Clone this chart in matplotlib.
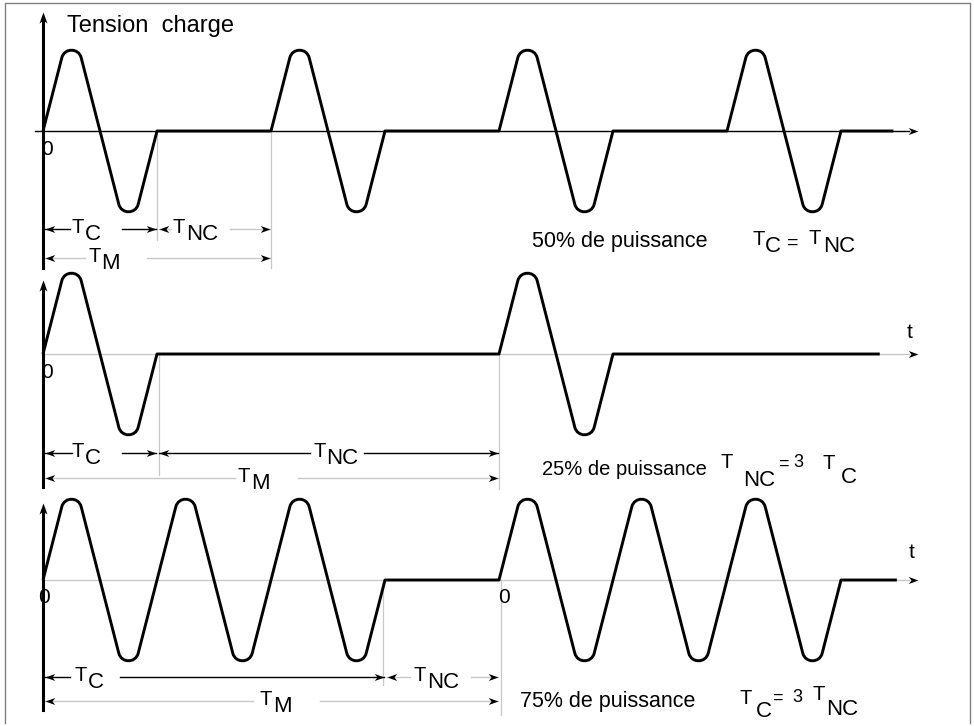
import numpy as np
import matplotlib.pyplot as plt
from matplotlib.path import Path
from matplotlib.patches import PathPatch
from matplotlib.markers import MarkerStyle
from matplotlib.transforms import Affine2D

plt.rcParams['font.family'] = ['Liberation Sans', 'DejaVu Sans']

# === Data: time in mains periods, voltage relative to the triangle peak ===
amp = 1.0
p1_on = [0, 2, 4, 6]            # 50 % : T_C = T_NC
p2_on = [0, 4]                  # 25 % : T_NC = 3 T_C
p3_on = [0, 1, 2, 4, 5, 6]      # 75 % : T_C = 3 T_NC
p1_end, p2_end, p3_end = 7.46, 7.34, 7.49

# dimension lines: (from, to, subscript)
p1_dims = [(0, 1, 'C'), (1, 2, 'NC'), (0, 2, 'M')]
p2_dims = [(0, 1, 'C'), (1, 4, 'NC'), (0, 4, 'M')]
p3_dims = [(0, 3, 'C'), (3, 4, 'NC'), (0, 4, 'M')]

p1_caption = '50% de puissance'
p2_caption = '25% de puissance'
p3_caption = '75% de puissance'
y_label = 'Tension  charge'

# === Layout (pixels -> panel units) ===
W, H = 974, 726
X0, PX_T, PX_V = 43, 114, 111
GRAY = '#c8c8c8'
T_SIZE, SUB_SIZE = 14.5, 16

fig = plt.figure(figsize=(W / 100, H / 100), dpi=100)
renderer = fig.canvas.get_renderer()

# border (left, top, right)
fig.add_artist(plt.Line2D([5 / W, 5 / W, 970 / W, 970 / W],
                          [1 - 723 / H, 1 - 3 / H, 1 - 3 / H, 1 - 723 / H],
                          color='#808080', lw=1))


def panel_axes(y0):
    ax = fig.add_axes([0, 0, 1, 1])
    ax.set_xlim(-X0 / PX_T, (W - X0) / PX_T)
    ax.set_ylim((y0 - H) / PX_V, y0 / PX_V)
    ax.axis('off')
    return ax


def wave_points(on, end):
    pts = []
    for s in on:
        for p in [(s, 0), (s + .25, amp), (s + .75, -amp), (s + 1, 0)]:
            if not pts or pts[-1] != p:
                pts.append(p)
    pts.append((end, 0))
    return np.array(pts, float)


def rounded_wave(ax, pts, r=10.0):
    # round the tips with a circular fillet, worked out in pixel space
    d = ax.transData.transform(pts)
    verts, codes = [d[0]], [Path.MOVETO]
    for i in range(1, len(d) - 1):
        v = d[i]
        if abs(pts[i][1]) < amp:
            verts.append(v)
            codes.append(Path.LINETO)
            continue
        u1 = (d[i - 1] - v) / np.linalg.norm(d[i - 1] - v)
        u2 = (d[i + 1] - v) / np.linalg.norm(d[i + 1] - v)
        half = np.arccos(np.clip(u1 @ u2, -1, 1)) / 2
        dist = r / np.tan(half)
        k = 4 / 3 * np.tan((np.pi - 2 * half) / 4) * r
        t1, t2 = v + u1 * dist, v + u2 * dist
        verts += [t1, t1 - u1 * k, t2 - u2 * k, t2]
        codes += [Path.LINETO, Path.CURVE4, Path.CURVE4, Path.CURVE4]
    verts.append(d[-1])
    codes.append(Path.LINETO)
    path = Path(ax.transData.inverted().transform(np.array(verts)), codes)
    ax.add_patch(PathPatch(path, fill=False, lw=2.1, ec='black',
                           joinstyle='round', capstyle='butt', zorder=5))


HEAD = Path([(0, 0), (-1, .36), (-.72, 0), (-1, -.36), (0, 0)],
            [Path.MOVETO, Path.LINETO, Path.LINETO, Path.LINETO, Path.CLOSEPOLY])


def head(ax, t, v, angle, ms=14):
    mk = MarkerStyle(HEAD, transform=Affine2D().rotate_deg(angle))
    ax.plot([t], [v], ls='none', marker=mk, ms=ms, mfc='black', mec='none', zorder=6)


def pieces_at(ax, t, v, pieces):
    # pieces: (text, size, dx, dy) in pixels from the anchor baseline
    for s, size, dx, dy in pieces:
        ax.annotate(s, (t, v), xytext=(dx, dy), textcoords='offset pixels',
                    fontsize=size, ha='left', va='baseline')


def t_label(ax, t, v, sub):
    a = ax.annotate('T', (t, v), xytext=(0, -4), textcoords='offset pixels',
                    fontsize=T_SIZE, ha='left', va='baseline')
    w = a.get_window_extent(renderer).width
    ax.annotate(sub, (t, v), xytext=(w + 1, -11), textcoords='offset pixels',
                fontsize=SUB_SIZE, ha='left', va='baseline')


def dimension(ax, dim, row, label_t, gap, color):
    t0, t1, sub = dim
    a, b = t0 + 0.02, t1 - 0.01
    ax.plot([a, gap[0]], [row, row], color=color, lw=1)
    ax.plot([gap[1], b], [row, row], color=color, lw=1)
    head(ax, a, row, 180)
    head(ax, b, row, 0)
    t_label(ax, label_t, row, sub)


def axes_lines(ax, top, bottom, line_color, x_start):
    ax.plot([x_start, 7.6], [0, 0], color=line_color, lw=1, zorder=1)
    head(ax, 7.675, 0, 0)
    ax.plot([0, 0], [bottom, top - 0.05], color='black', lw=2.2, zorder=4)
    head(ax, 0, top, 90, ms=16)


def guides(ax, items):
    for t, low in items:
        ax.plot([t, t], [0, low], color=GRAY, lw=0.9, zorder=1)


# === Panel 1: 50 % ===
ax1 = panel_axes(131)
axes_lines(ax1, 1.07, -1.23, 'black', -0.07)
guides(ax1, [(1, -0.98), (2, -1.23)])
rounded_wave(ax1, wave_points(p1_on, p1_end))
for dim, row, lt, gap, col in zip(p1_dims, [-0.883, -0.883, -1.144],
                                  [0.254, 1.14, 0.395],
                                  [(0.237, 0.693), (1.12, 1.64), (0.37, 0.91)],
                                  ['black', GRAY, GRAY]):
    dimension(ax1, dim, row, lt, gap, col)
ax1.text(0.21, 0.89, y_label, fontsize=17, ha='left', va='baseline')
ax1.text(0.035, -0.17, '0', fontsize=15, ha='center', va='center')
ax1.text(4.29, -1.045, p1_caption, fontsize=15.5, ha='left', va='baseline')
pieces_at(ax1, 6.22, -1.027, [('T', T_SIZE, 0, 0), ('C', SUB_SIZE, 13, -7),
                              ('=', 14, 35, -3), ('T', T_SIZE, 56, 1),
                              ('NC', SUB_SIZE, 71, -7)])

# === Panel 2: 25 % ===
ax2 = panel_axes(354)
axes_lines(ax2, 0.67, -1.2, GRAY, 0)
guides(ax2, [(1.02, -1.09), (4, -1.22)])
rounded_wave(ax2, wave_points(p2_on, p2_end))
for dim, row, lt, gap, col in zip(p2_dims, [-0.892, -0.892, -1.117],
                                  [0.254, 2.37, 1.71],
                                  [(0.25, 0.693), (2.34, 2.82), (1.68, 2.24)],
                                  ['black', 'black', GRAY]):
    dimension(ax2, dim, row, lt, gap, col)
ax2.text(0.035, -0.17, '0', fontsize=15, ha='center', va='center')
ax2.text(7.6, 0.19, 't', fontsize=15, ha='center', va='center')
ax2.text(4.38, -1.09, p2_caption, fontsize=14.5, ha='left', va='baseline')
pieces_at(ax2, 5.94, -1.027, [('T', T_SIZE, 0, 0), ('NC', SUB_SIZE, 23, -18),
                              ('=', 13, 58, -1), ('3', 13, 73, 1),
                              ('T', T_SIZE, 102, -1), ('C', SUB_SIZE, 121, -15)])

# === Panel 3: 75 % ===
ax3 = panel_axes(580)
axes_lines(ax3, 0.69, -1.17, GRAY, 0)
guides(ax3, [(2.98, -0.95), (4.02, -1.22)])
rounded_wave(ax3, wave_points(p3_on, p3_end))
for dim, row, lt, gap, col in zip(p3_dims, [-0.874, -0.874, -1.09],
                                  [0.272, 3.25, 1.90],
                                  [(0.237, 0.675), (3.22, 3.75), (1.84, 2.43)],
                                  ['black', GRAY, GRAY]):
    dimension(ax3, dim, row, lt, gap, col)
ax3.text(0.01, -0.16, '0', fontsize=15, ha='center', va='center')
ax3.text(4.04, -0.16, '0', fontsize=15, ha='center', va='center')
ax3.text(7.62, 0.25, 't', fontsize=15, ha='center', va='center')
ax3.text(4.18, -1.144, p3_caption, fontsize=15.5, ha='left', va='baseline')
pieces_at(ax3, 6.11, -1.117, [('T', T_SIZE, 0, 0), ('C', SUB_SIZE, 16, -13),
                              ('=', 13, 33, 1), ('3', 13, 53, 2),
                              ('T', T_SIZE, 73, 4), ('NC', SUB_SIZE, 87, -11)])

fig.savefig('out.png', dpi=100)
